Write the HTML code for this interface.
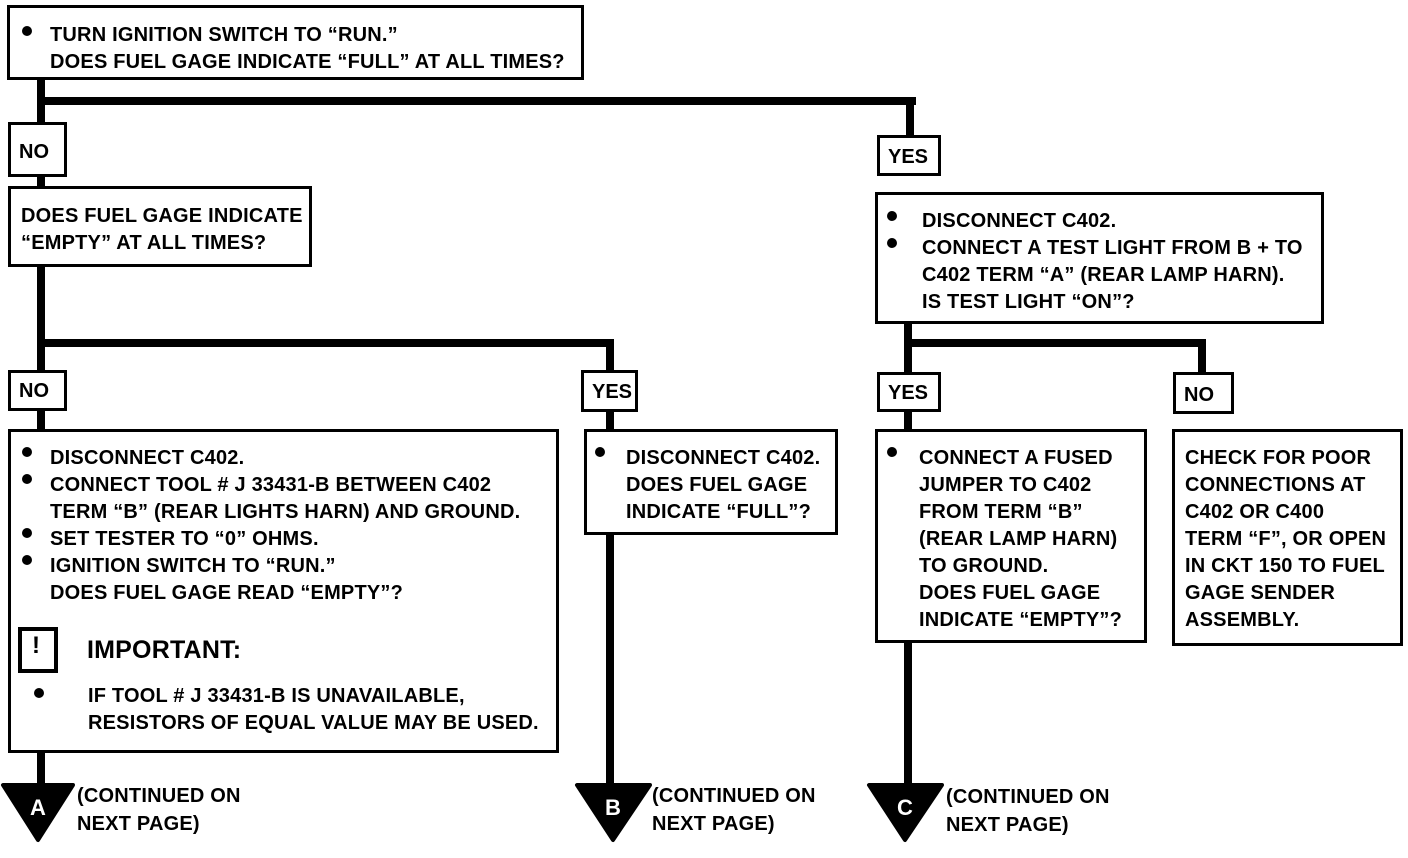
<!DOCTYPE html>
<html><head><meta charset="utf-8"><style>
body{margin:0;width:1408px;height:858px;background:#fff;position:relative;overflow:hidden;font-family:"Liberation Sans",sans-serif;font-weight:bold;color:#000;letter-spacing:0.2px}
.b{position:absolute;border:3px solid #000;box-sizing:border-box;background:#fff;font-size:20px;line-height:27px;white-space:nowrap}
.l{position:absolute;background:#000}
.t{position:absolute;white-space:nowrap}
.d{position:absolute;width:10px;height:10px;border-radius:50%;background:#000}
.lab{padding:10px 0 0 8px;letter-spacing:0}
</style></head><body>
<div class="l" style="left:37px;top:78px;width:8px;height:712px"></div>
<div class="l" style="left:37px;top:97px;width:879px;height:8px"></div>
<div class="l" style="left:906px;top:97px;width:8px;height:40px"></div>
<div class="l" style="left:37px;top:339px;width:577px;height:8px"></div>
<div class="l" style="left:606px;top:339px;width:8px;height:450px"></div>
<div class="l" style="left:904px;top:320px;width:8px;height:470px"></div>
<div class="l" style="left:904px;top:339px;width:302px;height:8px"></div>
<div class="l" style="left:1198px;top:339px;width:8px;height:35px"></div>

<div class="b" style="left:7px;top:5px;width:577px;height:75px;padding:14px 0 0 40px">TURN IGNITION SWITCH TO “RUN.”<br>DOES FUEL GAGE INDICATE “FULL” AT ALL TIMES?</div>
<div class="d" style="left:22px;top:26px"></div>

<div class="b lab" style="left:8px;top:122px;width:59px;height:55px;padding-top:14px">NO</div>
<div class="b" style="left:8px;top:186px;width:304px;height:81px;padding:14px 0 0 10px">DOES FUEL GAGE INDICATE<br>“EMPTY” AT ALL TIMES?</div>

<div class="b lab" style="left:877px;top:135px;width:64px;height:41px;padding-top:6px">YES</div>
<div class="b" style="left:875px;top:192px;width:449px;height:132px;padding:13px 0 0 44px">DISCONNECT C402.<br>CONNECT A TEST LIGHT FROM B + TO<br>C402 TERM “A” (REAR LAMP HARN).<br>IS TEST LIGHT “ON”?</div>
<div class="d" style="left:887px;top:211px"></div><div class="d" style="left:887px;top:238px"></div>

<div class="b lab" style="left:8px;top:370px;width:59px;height:41px;padding-top:5px">NO</div>
<div class="b lab" style="left:581px;top:370px;width:57px;height:42px;padding-top:6px">YES</div>
<div class="b lab" style="left:877px;top:372px;width:64px;height:40px;padding-top:5px">YES</div>
<div class="b lab" style="left:1173px;top:372px;width:61px;height:42px;padding-top:7px">NO</div>

<div class="b" style="left:8px;top:429px;width:551px;height:324px;padding:13px 0 0 39px">DISCONNECT C402.<br>CONNECT TOOL # J 33431-B BETWEEN C402<br>TERM “B” (REAR LIGHTS HARN) AND GROUND.<br>SET TESTER TO “0” OHMS.<br>IGNITION SWITCH TO “RUN.”<br>DOES FUEL GAGE READ “EMPTY”?</div>
<div class="d" style="left:22px;top:447px"></div><div class="d" style="left:22px;top:474px"></div><div class="d" style="left:22px;top:528px"></div><div class="d" style="left:22px;top:555px"></div>
<div style="position:absolute;left:18px;top:627px;width:40px;height:46px;border:4px solid #000;box-sizing:border-box"></div>
<div class="t" style="left:32px;top:631px;font-size:24px;line-height:30px">!</div>
<div class="t" style="left:87px;top:636px;font-size:25px">IMPORTANT:</div>
<div class="d" style="left:34px;top:688px"></div>
<div class="t" style="left:88px;top:683px;font-size:20px;line-height:27px">IF TOOL # J 33431-B IS UNAVAILABLE,<br>RESISTORS OF EQUAL VALUE MAY BE USED.</div>

<div class="b" style="left:584px;top:429px;width:254px;height:106px;padding:13px 0 0 39px">DISCONNECT C402.<br>DOES FUEL GAGE<br>INDICATE “FULL”?</div>
<div class="d" style="left:595px;top:447px"></div>

<div class="b" style="left:875px;top:429px;width:272px;height:214px;padding:13px 0 0 41px">CONNECT A FUSED<br>JUMPER TO C402<br>FROM TERM “B”<br>(REAR LAMP HARN)<br>TO GROUND.<br>DOES FUEL GAGE<br>INDICATE “EMPTY”?</div>
<div class="d" style="left:887px;top:447px"></div>

<div class="b" style="left:1172px;top:429px;width:231px;height:217px;padding:13px 0 0 10px">CHECK FOR POOR<br>CONNECTIONS AT<br>C402 OR C400<br>TERM “F”, OR OPEN<br>IN CKT 150 TO FUEL<br>GAGE SENDER<br>ASSEMBLY.</div>

<svg style="position:absolute;left:0;top:0" width="1408" height="858">
<g fill="#000" stroke="#000" stroke-width="4" stroke-linejoin="round">
<polygon points="3,785 73,785 38,840"/><polygon points="577,785 650,785 613,840"/><polygon points="869,785 942,785 905,840"/>
</g>
<g fill="#fff" font-family="Liberation Sans,sans-serif" font-weight="bold" font-size="22" text-anchor="middle">
<text x="38" y="815">A</text><text x="613" y="815">B</text><text x="905" y="815">C</text></g>
</svg>
<div class="t" style="left:77px;top:782px;font-size:20px;line-height:28px">(CONTINUED ON<br>NEXT PAGE)</div>
<div class="t" style="left:652px;top:782px;font-size:20px;line-height:28px">(CONTINUED ON<br>NEXT PAGE)</div>
<div class="t" style="left:946px;top:783px;font-size:20px;line-height:28px">(CONTINUED ON<br>NEXT PAGE)</div>
</body></html>
